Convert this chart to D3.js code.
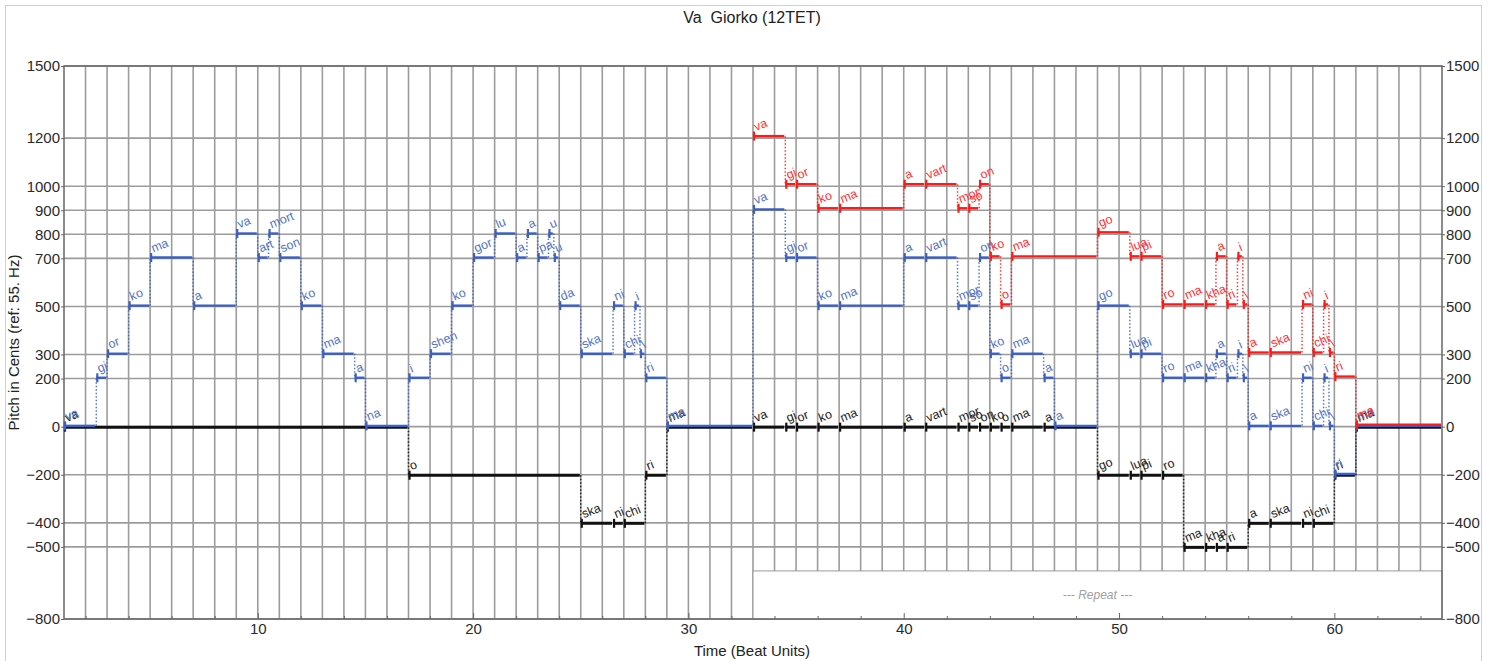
<!DOCTYPE html>
<html><head><meta charset="utf-8">
<script src="https://cdn.jsdelivr.net/npm/d3@7"></script>
<style>
body{margin:0;background:#fff;}
text{font-family:"Liberation Sans",Arial,Helvetica,sans-serif;}
</style>
</head><body>
<svg id="c" width="1498" height="661"></svg>
<script>
// ---------- data ----------
const yTicks = [1500, 1200, 1000, 900, 800, 700, 500, 300, 200, 0, -200, -400, -500, -800];
const xTicks = [10, 20, 30, 40, 50, 60];

// Voice 1 (red, upper) – second half only
const redStarts = [33, 34.5, 35, 36, 37, 40, 41, 42.5, 43, 43.5, 44, 44.5, 45, 49, 50.5, 51, 52, 53, 54, 54.5, 55, 55.5, 55.75, 56, 57, 58.5, 59, 59.5, 59.75, 60, 61];
const redPitch  = [1200, 1000, 1000, 900, 900, 1000, 1000, 900, 900, 1000, 700, 500, 700, 800, 700, 700, 500, 500, 500, 700, 500, 700, 500, 300, 300, 500, 300, 500, 300, 200, 0];
const redSyl    = ["va","gi","or","ko","ma","a","vart","mor","so","on","ko","o","ma","go","lua","pi","ro","ma","kha","a","ri","i","\\","a","ska","ni","chi","i","\\","ri","ma"];
const redEnd = 65;

// Voice 2 (blue, melody)
const blueStarts = [1, 2.5, 3, 4, 5, 7, 9, 10, 10.5, 11, 12, 13, 14.5, 15,
  17, 18, 19, 20, 21, 22, 22.5, 23, 23.5, 23.75, 24, 25, 26.5, 27, 27.5, 27.75, 28, 29,
  33, 34.5, 35, 36, 37, 40, 41, 42.5, 43, 43.5, 44, 44.5, 45, 46.5, 47,
  49, 50.5, 51, 52, 53, 54, 54.5, 55, 55.5, 55.75, 56, 57, 58.5, 59, 59.5, 59.75, 60, 61];
const bluePitch = [0, 200, 300, 500, 700, 500, 800, 700, 800, 700, 500, 300, 200, 0,
  200, 300, 500, 700, 800, 700, 800, 700, 800, 700, 500, 300, 500, 300, 500, 300, 200, 0,
  900, 700, 700, 500, 500, 700, 700, 500, 500, 700, 300, 200, 300, 200, 0,
  500, 300, 300, 200, 200, 200, 300, 200, 300, 200, 0, 0, 200, 0, 200, 0, -200, 0];
const blueSyl = ["va","gi","or","ko","ma","a","va","art","mort","son","ko","ma","a","na",
  "i","shen","ko","gor","lu","a","a","pa","u","u","da","ska","ni","chi","i","\\","ri","ma",
  "va","gi","or","ko","ma","a","vart","mor","so","on","ko","o","ma","a","a",
  "go","lua","pi","ro","ma","kha","a","ri","i","\\","a","ska","ni","chi","i","\\","ri","ma"];
const blueEnd = 65;

// Voice 3 (black, bass)
const blackStarts = [1, 17, 25, 26.5, 27, 28, 29,
  33, 34.5, 35, 36, 37, 40, 41, 42.5, 43, 43.5, 44, 44.5, 45, 46.5,
  49, 50.5, 51, 52, 53, 54, 54.5, 55, 56, 57, 58.5, 59, 60, 61];
const blackPitch = [0, -200, -400, -400, -400, -200, 0,
  0, 0, 0, 0, 0, 0, 0, 0, 0, 0, 0, 0, 0, 0,
  -200, -200, -200, -200, -500, -500, -500, -500, -400, -400, -400, -400, -200, 0];
const blackSyl = ["va","o","ska","ni","chi","ri","ma",
  "va","gi","or","ko","ma","a","vart","mor","so","on","ko","o","ma","a",
  "go","lua","pi","ro","ma","kha","a","ri","a","ska","ni","chi","ri","ma"];
const blackEnd = 65;

const repeatFrom = 33, repeatTo = 65, repeatLow = -800, repeatHigh = -600;

// ---------- layout ----------
const svg = d3.select("#c");
const L = 64, R = 1442, T = 66, B = 619;
const x = d3.scaleLinear().domain([1, 65]).range([L, R]);
const y = d3.scaleLinear().domain([-800, 1500]).range([B, T]);

// outer border
svg.append("rect").attr("x", 5.5).attr("y", 5.5).attr("width", 1476).attr("height", 670)
  .attr("fill", "none").attr("stroke", "#d0d0d0").attr("stroke-width", 1);

// grid
const grid = svg.append("g");
grid.selectAll("line.v").data(d3.range(2, 65)).join("line")
  .attr("x1", d => x(d)).attr("x2", d => x(d)).attr("y1", T).attr("y2", B)
  .attr("stroke", "#9c9c9c").attr("stroke-width", 1.6);
grid.selectAll("line.h").data(yTicks).join("line")
  .attr("x1", L).attr("x2", R).attr("y1", d => y(d)).attr("y2", d => y(d))
  .attr("stroke", "#9c9c9c").attr("stroke-width", 1.6);

// repeat box
svg.append("rect").attr("x", x(repeatFrom)).attr("y", y(repeatHigh))
  .attr("width", x(repeatTo) - x(repeatFrom)).attr("height", y(repeatLow) - y(repeatHigh))
  .attr("fill", "#fff").attr("stroke", "#999").attr("stroke-width", 1);
svg.append("text").attr("x", x((repeatFrom + repeatTo) / 2)).attr("y", y((repeatLow + repeatHigh) / 2))
  .attr("dy", "0.35em").attr("text-anchor", "middle").attr("font-size", 12)
  .attr("font-style", "italic").attr("fill", "#a0a0a0").style("white-space", "pre")
  .text("--- Repeat ---");

// axes
const axL = svg.append("g").attr("transform", `translate(${L},0)`)
  .call(d3.axisLeft(y).tickValues(yTicks).tickSize(3).tickPadding(1).tickFormat(d3.format("d")));
const axR = svg.append("g").attr("transform", `translate(${R},0)`)
  .call(d3.axisRight(y).tickValues(yTicks).tickSize(3).tickPadding(1).tickFormat(d3.format("d")));
const axB = svg.append("g").attr("transform", `translate(0,${B})`)
  .call(d3.axisBottom(x).tickValues(xTicks).tickSize(-6).tickPadding(4));
const axBm = svg.append("g").attr("transform", `translate(0,${B})`)
  .call(d3.axisBottom(x).tickValues(d3.range(2, 65, 2).filter(v => v % 10 !== 0)).tickSize(-3).tickFormat(""));
[axL, axR, axB, axBm].forEach(a => {
  a.selectAll("text").attr("font-size", 15).attr("fill", "#2a2a2a")
    .attr("font-family", "'Liberation Sans',Arial,sans-serif");
  a.selectAll("line").attr("stroke", "#666").attr("stroke-width", 1);
  a.select(".domain").remove();
});
axL.selectAll("text").text(d => d < 0 ? "\u2212" + Math.abs(d) : d);
axR.selectAll("text").text(d => d < 0 ? "\u2212" + Math.abs(d) : d);

// frame
svg.append("rect").attr("x", L).attr("y", T).attr("width", R - L).attr("height", B - T)
  .attr("fill", "none").attr("stroke", "#666").attr("stroke-width", 1.5);

// ---------- series ----------
function notes(starts, pitch, syl, end) {
  return starts.map((s, i) => ({ t0: s, t1: i < starts.length - 1 ? starts[i + 1] : end, p: pitch[i], s: syl[i] }));
}
const series = [
  { name: "black", n: notes(blackStarts, blackPitch, blackSyl, blackEnd), col: "#111", lab: "#222", w: 3, off: 0.5 },
  { name: "blue", n: notes(blueStarts, bluePitch, blueSyl, blueEnd), col: "#3d5fc2", lab: "#5374c4", w: 2.4, off: -0.8 },
  { name: "red", n: notes(redStarts, redPitch, redSyl, redEnd), col: "#ff1a1a", lab: "#ff3333", w: 2.4, off: -2 }
];

series.forEach(sr => {
  const g = svg.append("g");
  g.selectAll("line.c").data(d3.pairs(sr.n).filter(([a, b]) => a.p !== b.p)).join("line")
    .attr("x1", ([a, b]) => x(b.t0)).attr("x2", ([a, b]) => x(b.t0))
    .attr("y1", ([a, b]) => y(a.p) + sr.off).attr("y2", ([a, b]) => y(b.p) + sr.off)
    .attr("stroke", sr.col).attr("stroke-width", 1.5).attr("stroke-dasharray", "1.5,2").attr("opacity", 0.85);
  g.selectAll("line.s").data(sr.n).join("line")
    .attr("x1", d => x(d.t0)).attr("x2", d => x(d.t1) - 1)
    .attr("y1", d => y(d.p) + sr.off).attr("y2", d => y(d.p) + sr.off)
    .attr("stroke", sr.col).attr("stroke-width", sr.w);
  g.selectAll("line.t").data(sr.n).join("line")
    .attr("x1", d => x(d.t0) + 1).attr("x2", d => x(d.t0) + 1)
    .attr("y1", d => y(d.p) + sr.off - 4.5).attr("y2", d => y(d.p) + sr.off + 4.5)
    .attr("stroke", sr.col).attr("stroke-width", 2.2);
});
series.forEach(sr => {
  svg.append("g").selectAll("text").data(sr.n).join("text")
    .attr("transform", d => `translate(${x(d.t0) + 3},${y(d.p) + sr.off - 5}) rotate(-22)`)
    .attr("font-size", 12.5).attr("fill", sr.lab).text(d => d.s);
});

// titles
svg.append("text").attr("x", 752).attr("y", 23).attr("text-anchor", "middle")
  .attr("font-size", 16).attr("fill", "#222").style("white-space", "pre").text("Va  Giorko (12TET)");
svg.append("text").attr("x", 752).attr("y", 656).attr("text-anchor", "middle")
  .attr("font-size", 15).attr("fill", "#222").text("Time (Beat Units)");
svg.append("text").attr("transform", `translate(19,${(T + B) / 2}) rotate(-90)`)
  .attr("text-anchor", "middle").attr("font-size", 15).attr("fill", "#222")
  .text("Pitch in Cents (ref: 55. Hz)");
</script>
</body></html>
